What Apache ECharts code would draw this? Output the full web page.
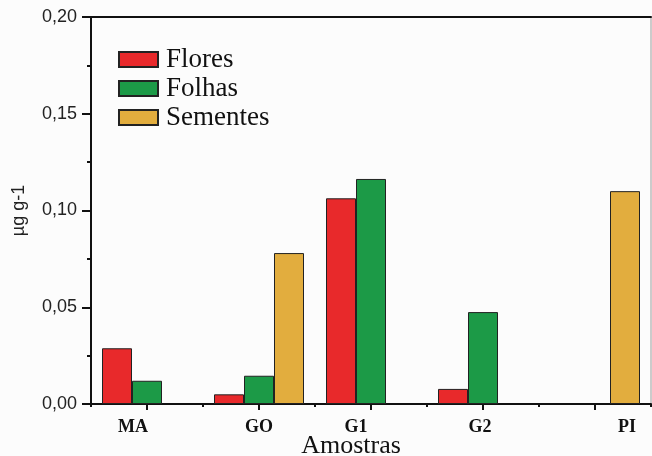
<!DOCTYPE html>
<html>
<head>
<meta charset="utf-8">
<script src="https://cdn.jsdelivr.net/npm/echarts@6/dist/echarts.min.js"></script>
<style>
  html, body { margin: 0; padding: 0; background: #fcfcfc; }
  #chart { width: 652px; height: 456px; }
</style>
</head>
<body>
<div id="chart"></div>
<script>
const categories = ['MA', 'GO', 'G1', 'G2', 'PI'];
const flores = [0.0288, 0.005, 0.1063, 0.0078, null];
const folhas = [0.012, 0.0146, 0.1163, 0.0475, null];
const sementes = [null, 0.078, null, null, 0.110];
const yTicks = { min: 0, max: 0.2, interval: 0.05 };

const serif = '"Liberation Serif", "Times New Roman", serif';
const sans = '"Liberation Sans", Arial, sans-serif';

// per-label horizontal nudges (as in the reference)
const labelPads = [[0, 28, 0, 0], [0, 0, 0, 0], [0, 30, 0, 0], [0, 6, 0, 0], [0, 0, 0, 64]];
const rich = {};
labelPads.forEach((p, i) => {
  rich['l' + i] = { padding: p, fontFamily: serif, fontWeight: 'bold', fontSize: 18, color: '#111' };
});

const chart = echarts.init(document.getElementById('chart'), null, { renderer: 'canvas' });
const border = { borderColor: '#222', borderWidth: 1 };
chart.setOption({
  backgroundColor: '#fcfcfc',
  animation: false,
  grid: { left: 91, top: 17, right: 1, bottom: 52, show: true, borderColor: '#9a9a9a', borderWidth: 1, containLabel: false, outerBoundsMode: 'none' },
  legend: {
    orient: 'vertical',
    left: 113,
    top: 41,
    itemWidth: 39,
    itemHeight: 15,
    itemGap: 2,
    icon: 'rect',
    textStyle: { fontFamily: serif, fontSize: 27, lineHeight: 26, color: '#111', padding: [0, 0, 0, 3] },
    data: ['Flores', 'Folhas', 'Sementes']
  },
  xAxis: [
    {
      type: 'category',
      data: categories,
      position: 'bottom',
      axisLine: { lineStyle: { color: '#111', width: 2 } },
      axisTick: { show: true, length: 3, lineStyle: { color: '#111', width: 2 } },
      axisLabel: {
        interval: 0,
        margin: 14,
        formatter: (v, i) => '{l' + i + '|' + v + '}',
        rich: rich
      },
      name: 'Amostras',
      nameLocation: 'middle',
      nameGap: 29,
      nameMoveOverlap: false,
      nameTextStyle: { fontFamily: serif, fontSize: 26, color: '#111', padding: [0, 40, 0, 0] }
    },
    {
      type: 'category',
      data: categories,
      position: 'bottom',
      axisLine: { show: false },
      axisTick: { show: true, alignWithLabel: true, length: 6, lineStyle: { color: '#111', width: 2 } },
      axisLabel: { show: false }
    },
    {
      type: 'category',
      data: categories,
      position: 'top',
      axisLine: { lineStyle: { color: '#111', width: 2 } },
      axisTick: { show: false },
      axisLabel: { show: false }
    }
  ],
  yAxis: {
    type: 'value',
    min: yTicks.min,
    max: yTicks.max,
    interval: yTicks.interval,
    splitLine: { show: false },
    axisLine: { show: true, lineStyle: { color: '#111', width: 2 } },
    axisTick: { show: true, length: 9, lineStyle: { color: '#111', width: 2 } },
    minorTick: { show: true, splitNumber: 2, length: 4, lineStyle: { color: '#111', width: 2 } },
    axisLabel: {
      margin: 14,
      fontFamily: sans,
      fontSize: 18,
      color: '#222',
      formatter: v => v.toFixed(2).replace('.', ',')
    },
    name: 'µg g-1',
    nameLocation: 'middle',
    nameGap: 63,
    nameMoveOverlap: false,
    nameTextStyle: { fontFamily: sans, fontSize: 18, color: '#222' }
  },
  series: [
    { name: 'Flores', type: 'bar', data: flores, barWidth: 30, barGap: '0%', itemStyle: Object.assign({ color: '#e8292b' }, border) },
    { name: 'Folhas', type: 'bar', data: folhas, barWidth: 30, barGap: '0%', itemStyle: Object.assign({ color: '#1c9a47' }, border) },
    { name: 'Sementes', type: 'bar', data: sementes, barWidth: 30, barGap: '0%', itemStyle: Object.assign({ color: '#e2ad3e' }, border) }
  ]
});
</script>
</body>
</html>
